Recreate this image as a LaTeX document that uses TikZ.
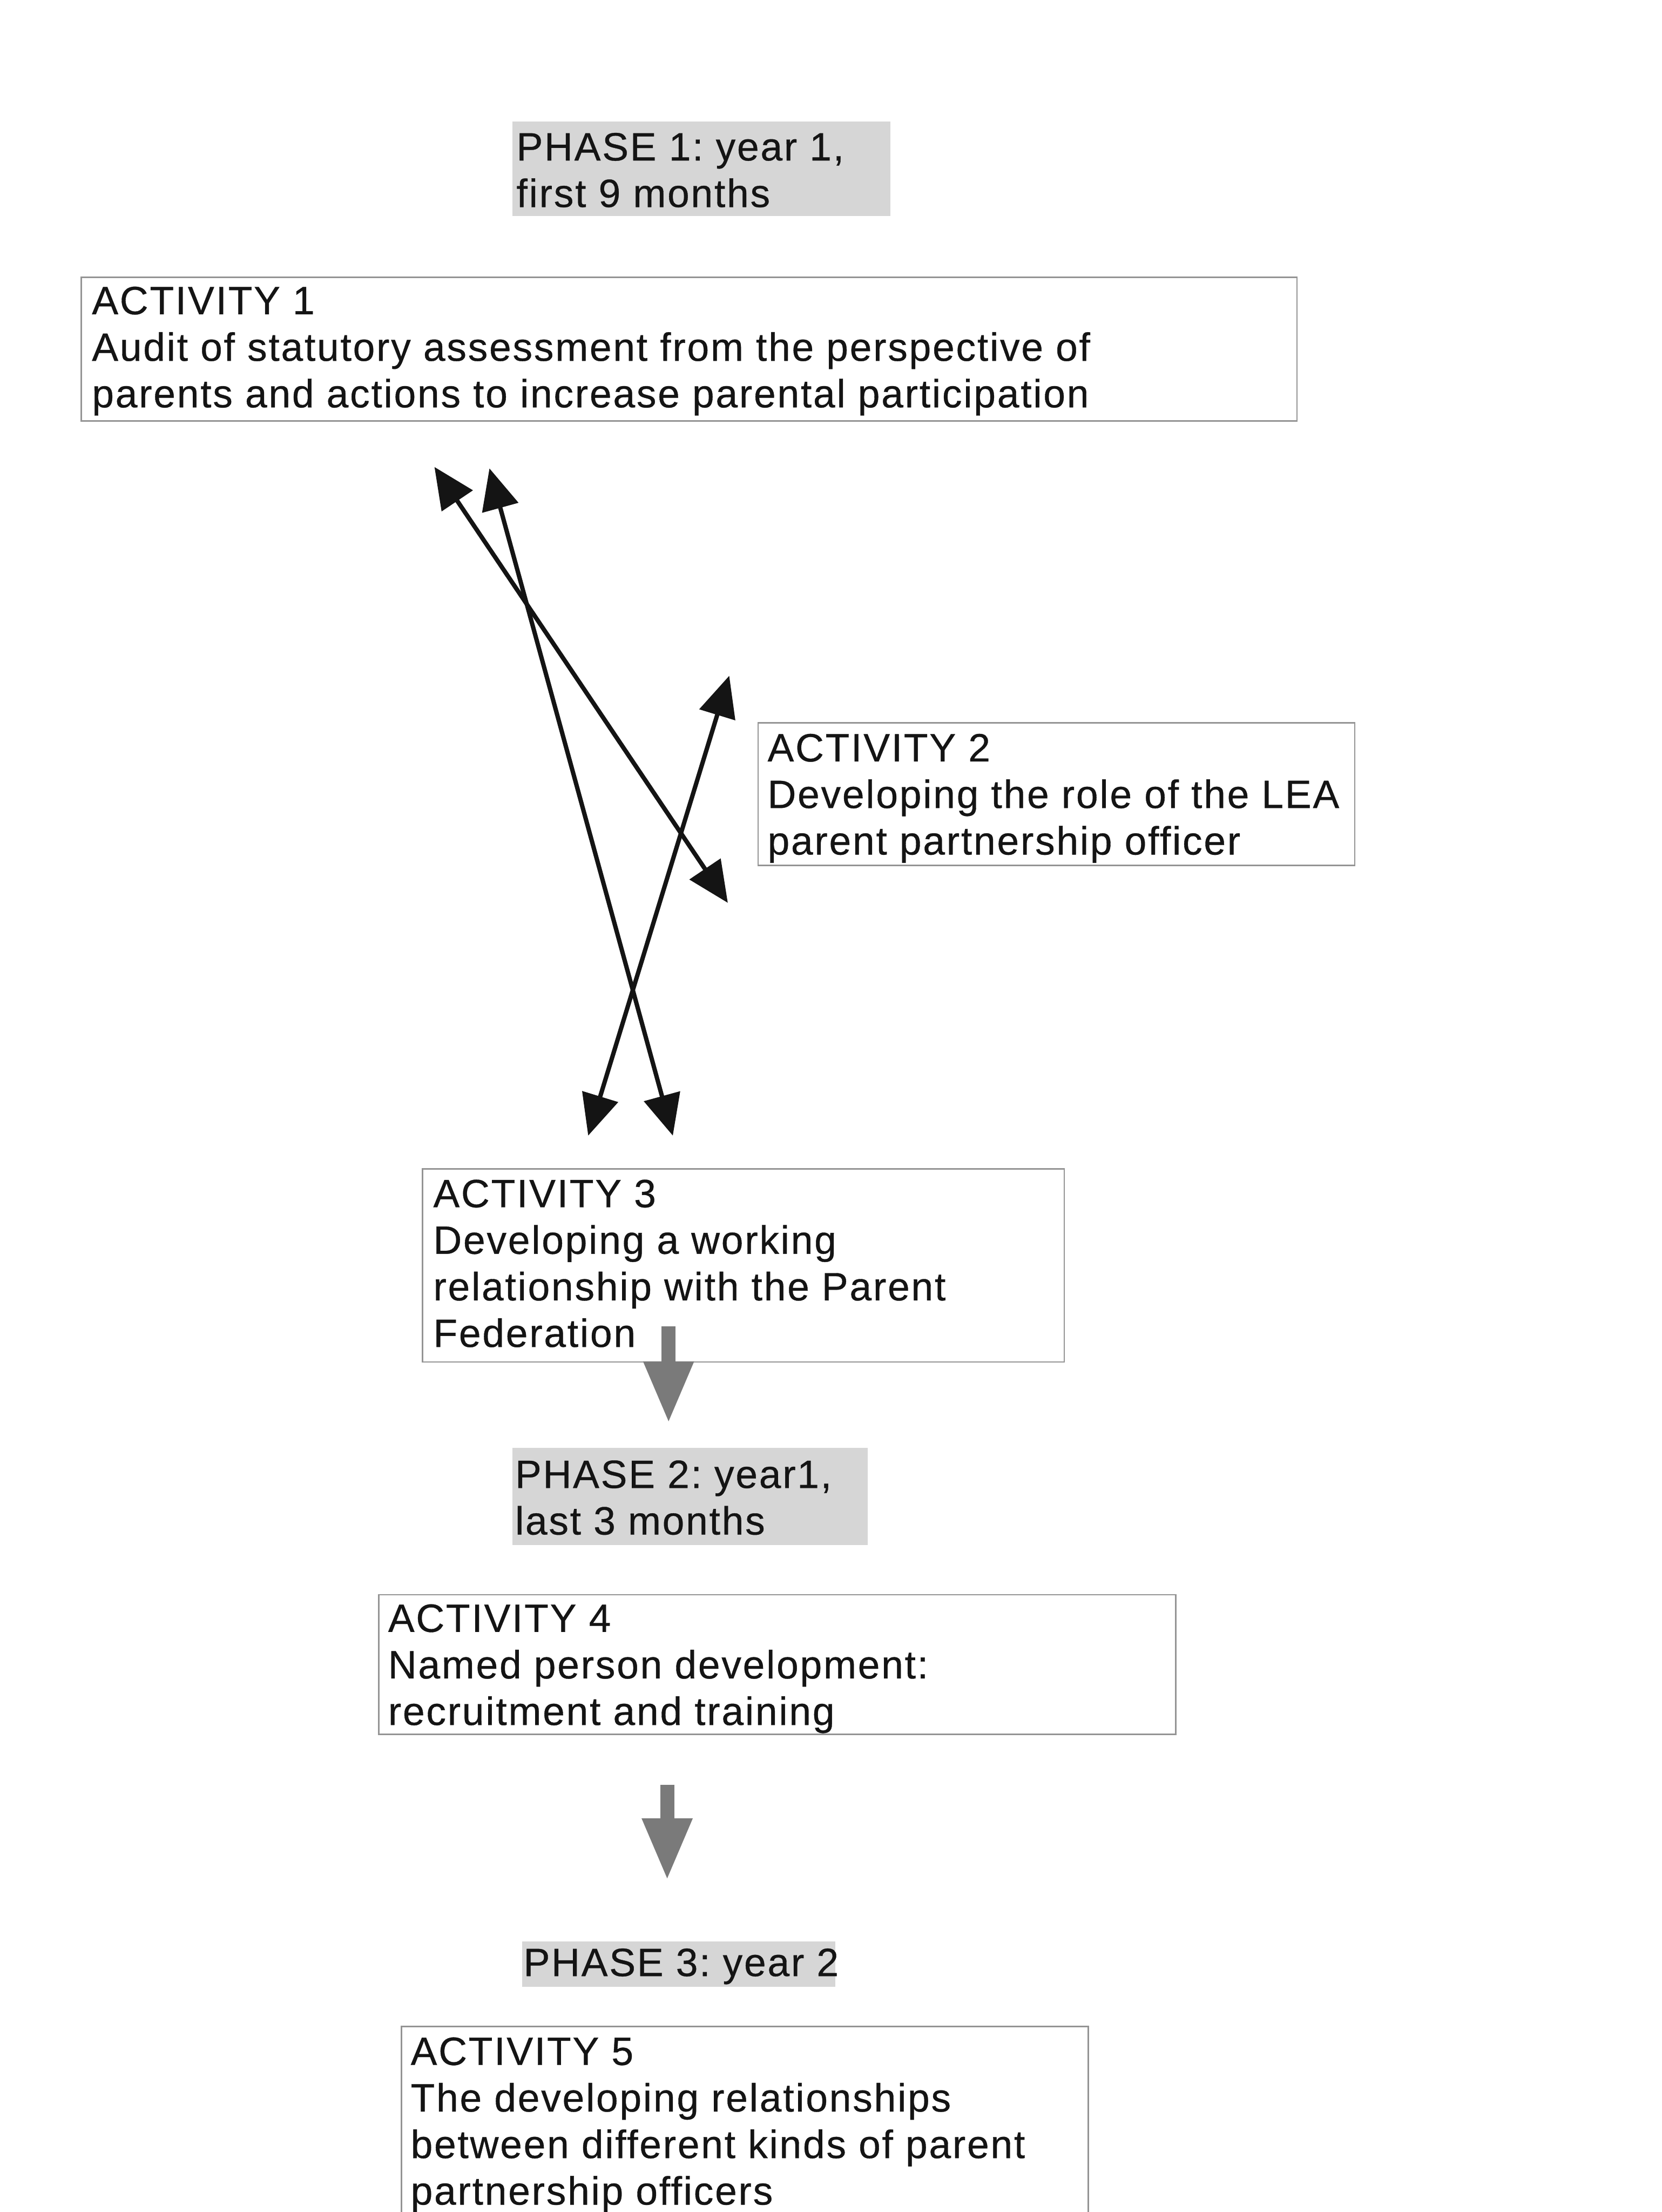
\documentclass[tikz,border=0pt]{standalone}
\usepackage{fontspec}
\setmainfont[LetterSpace=3.8,FakeBold=0.5]{Liberation Sans}
\usetikzlibrary{arrows.meta}
\begin{document}
\frenchspacing
\begin{tikzpicture}[x=1pt,y=-1pt,
  actbox/.style={draw=black!42, line width=1pt, anchor=north west, inner sep=0pt, fill=white},
  phasebox/.style={fill=black!16, draw=none, anchor=north west, inner sep=0pt},
  label/.style={anchor=north west, inner sep=0pt, align=left, font=\fontsize{28}{33}\selectfont, text=black!92},
  link/.style={line width=3.1pt, draw=black!92,
    {Triangle[length=29pt,width=26pt]}-{Triangle[length=29pt,width=26pt]}},
  flow/.style={line width=10pt, draw=black!52, -{Triangle[length=44pt,width=33pt]}}]

\useasboundingbox (0,0) rectangle (1178,1568);

% phase headings
\node[phasebox, minimum width=268pt, minimum height=67pt] (p1box) at (363,86) {};
\node[label] (p1) at (366,94) {PHASE 1: year 1,\\first 9 months};

\node[phasebox, minimum width=252pt, minimum height=69pt] (p2box) at (363,1026) {};
\node[label] (p2) at (365,1035) {PHASE 2: year1,\\last 3 months};

\node[phasebox, minimum width=222pt, minimum height=32pt] (p3box) at (370,1376) {};
\node[label] (p3) at (371,1381) {PHASE 3: year 2};

% activity boxes
\node[actbox, minimum width=862pt, minimum height=102pt] (a1box) at (57,196) {};
\node[label] (a1) at (65,203) {ACTIVITY 1\\Audit of statutory assessment from the perspective of\\parents and actions to increase parental participation};

\node[actbox, minimum width=423pt, minimum height=101pt] (a2box) at (537,512) {};
\node[label] (a2) at (544,520) {ACTIVITY 2\\Developing the role of the LEA\\parent partnership officer};

\node[actbox, minimum width=455pt, minimum height=137pt] (a3box) at (299,828) {};
\node[label] (a3) at (307,836) {ACTIVITY 3\\Developing a working\\relationship with the Parent\\Federation};

\node[actbox, minimum width=565pt, minimum height=99pt] (a4box) at (268,1130) {};
\node[label] (a4) at (275,1137) {ACTIVITY 4\\Named person development:\\recruitment and training};

\node[actbox, minimum width=487pt, minimum height=150pt] (a5box) at (284,1436) {};
\node[label] (a5) at (291,1444) {ACTIVITY 5\\The developing relationships\\between different kinds of parent\\partnership officers};

% ends of the two-way links between the first three activities
\coordinate (l1a) at (308,331);
\coordinate (l1b) at (516,640);
\coordinate (l2a) at (347,332);
\coordinate (l2b) at (477,805);
\coordinate (l3a) at (517,479);
\coordinate (l3b) at (417,805);

\draw[link] (l1a) -- (l1b);
\draw[link] (l2a) -- (l2b);
\draw[link] (l3a) -- (l3b);

% flow from phase to phase
\coordinate (f1a) at (474,940);
\coordinate (f1b) at (474,1009);
\coordinate (f2a) at (473,1265);
\coordinate (f2b) at (473,1333);
\draw[flow] (f1a) -- (f1b);
\draw[flow] (f2a) -- (f2b);
\end{tikzpicture}
\end{document}
